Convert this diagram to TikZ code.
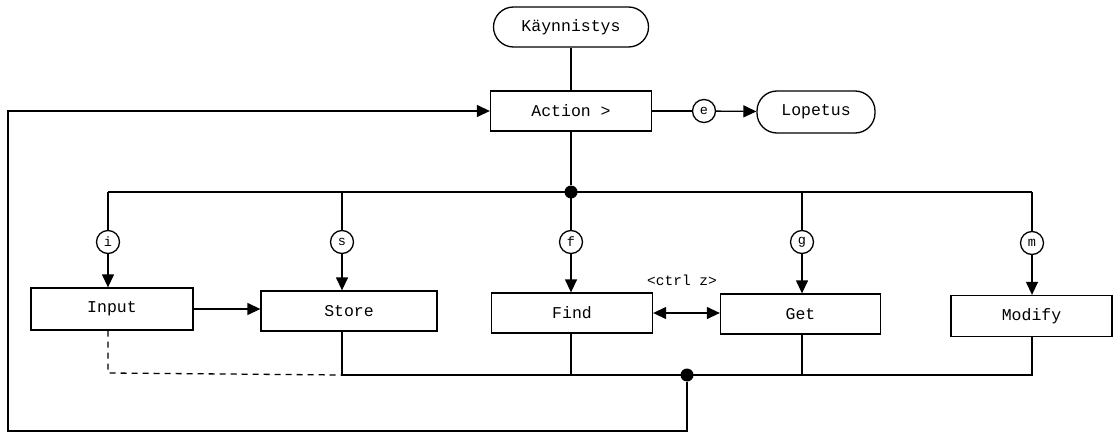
\documentclass[tikz,border=0pt]{standalone}
\usepackage{fontspec}
\setmonofont{Liberation Mono}
\usetikzlibrary{arrows.meta,calc}
\begin{document}
\begin{tikzpicture}[x=1pt,y=-1pt,
  line width=1.3pt,
  box/.style={draw, rectangle, minimum height=40pt, inner sep=0pt,
    font=\ttfamily\fontsize{16.5}{19}\selectfont},
  terminal/.style={draw, rectangle, rounded corners=20pt, minimum height=40pt,
    inner sep=0pt, font=\ttfamily\fontsize{16.5}{19}\selectfont},
  key/.style={draw, circle, minimum size=23pt, inner sep=0pt,
    font=\ttfamily\fontsize{13.5}{13.5}\selectfont},
  dot/.style={fill, circle, minimum size=13pt, inner sep=0pt},
  tip/.style={-{Triangle[length=13pt,width=12pt]}},
  both/.style={{Triangle[length=13pt,width=12pt]}-{Triangle[length=13pt,width=12pt]}},
  label/.style={font=\ttfamily\fontsize{14.5}{16}\selectfont, inner sep=0pt}]
\useasboundingbox (0,0) rectangle (1118,433);

% start, main menu and exit
\node[terminal, minimum width=155pt] (start) at (571,27) {Käynnistys};
\node[box, minimum width=161pt] (action) at (571,111) {Action >};
\node[key] (ke) at (704,111) {e};
\node[terminal, minimum width=118pt, minimum height=42pt] (stop) at (816,112) {Lopetus};

% command bus
\node[dot] (top) at (571,192) {};
\coordinate (busL) at (108,192);
\coordinate (busR) at (1032,192);

% command keys
\node[key] (ki) at (108,242) {i};
\node[key] (ks) at (342,242) {s};
\node[key] (kf) at (571,242) {f};
\node[key] (kg) at (802,242) {g};
\node[key] (km) at (1032,243) {m};

% command boxes
\node[box, minimum width=162pt, minimum height=42pt] (input) at (112,309) {Input};
\node[box, minimum width=176pt] (store) at (349,311) {Store};
\node[box, minimum width=161pt] (find) at (572,313) {Find};
\node[box, minimum width=160pt] (get) at (800.5,314) {Get};
\node[box, minimum width=161pt, minimum height=41pt] (modify) at (1031.5,316) {Modify};
\node[label] (ctrlz) at (682,280) {<ctrl z>};

% return bus
\node[dot] (bot) at (687,375) {};
\coordinate (rbL) at (342,375);
\coordinate (rbR) at (1032,375);
\coordinate (loopB) at (687,431);
\coordinate (loopBL) at (8,431);
\coordinate (loopTL) at (8,111);

% top part
\draw (start) -- (action);
\draw (action) -- (ke);
\draw[tip] (ke) -- (stop);
\draw (action) -- (top);
\draw (busL) -- (busR);

% branches to commands
\draw (busL) -- (ki);
\draw (ks |- busL) -- (ks);
\draw (kf |- busL) -- (kf);
\draw (kg |- busL) -- (kg);
\draw (busR) -- (km);
\draw[tip] (ki) -- (ki |- input.north);
\draw[tip] (ks) -- (ks |- store.north);
\draw[tip] (kf) -- (kf |- find.north);
\draw[tip] (kg) -- (kg |- get.north);
\draw[tip] (km) -- (km |- modify.north);

\draw[tip] (input.east) -- (store.west |- input.east);
\draw[both] (find.east) -- (get.west |- find.east);

% returns
\draw[dashed, dash pattern=on 6pt off 5pt] (ki |- input.south) -- (108,373) -- (rbL);
\draw (rbL |- store.south) -- (rbL) -- (rbR) -- (rbR |- modify.south);
\draw (kf |- find.south) -- (kf |- rbL);
\draw (kg |- get.south) -- (kg |- rbL);
\draw[tip] (bot) -- (loopB) -- (loopBL) -- (loopTL) -- (action.west);
\end{tikzpicture}
\end{document}
